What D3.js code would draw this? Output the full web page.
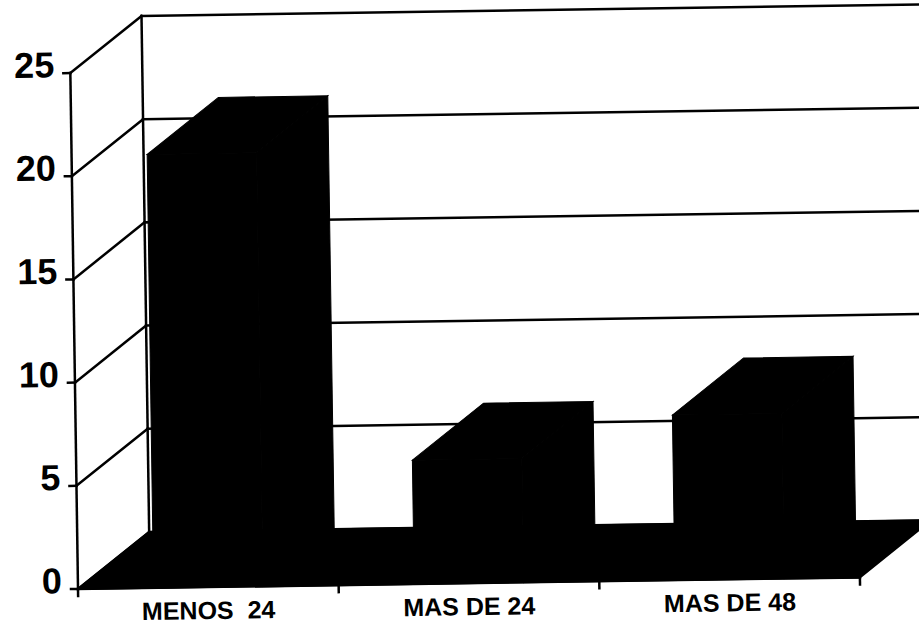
<!DOCTYPE html>
<html>
<head>
<meta charset="utf-8">
<script src="https://cdn.jsdelivr.net/npm/d3@7"></script>
<style>
  html, body { margin: 0; padding: 0; background: #fff; }
  svg { display: block; }
</style>
</head>
<body>
<div id="chart"></div>
<script>
const categories = ['MENOS  24', 'MAS DE 24', 'MAS DE 48'];
const values = [21, 6, 8];
const yTicks = [0, 5, 10, 15, 20, 25];

const W = 919, H = 625;
const origin = { x: 78, y: 589 };
const plotW = 782, plotH = 516;
const depth = { x: 72, y: -56 };   // offset of the back wall
const tilt = -0.85;                // the scan is slightly rotated

const svg = d3.select('#chart')
  .append('svg')
  .attr('width', W)
  .attr('height', H);

svg.append('rect')
  .attr('width', W)
  .attr('height', H)
  .attr('fill', '#fff');

const g = svg.append('g')
  .attr('transform', `translate(${origin.x},${origin.y}) rotate(${tilt})`);

const y = d3.scaleLinear()
  .domain([0, 25])
  .range([0, -plotH]);

const x = d3.scaleBand()
  .domain(categories)
  .range([0, plotW])
  .paddingInner(0.58)
  .paddingOuter(0.29);

const line = (x1, y1, x2, y2) => g.append('line')
  .attr('x1', x1).attr('y1', y1)
  .attr('x2', x2).attr('y2', y2)
  .attr('stroke', '#000')
  .attr('stroke-width', 2.5)
  .attr('stroke-linecap', 'square');

// back wall edge
line(depth.x, depth.y, depth.x, y(25) + depth.y);

// back wall gridlines + side wall lines
yTicks.forEach(v => {
  line(depth.x, y(v) + depth.y, plotW + depth.x + 20, y(v) + depth.y);
  line(0, y(v), depth.x, y(v) + depth.y);
});

// floor
g.append('path')
  .attr('d', `M0,0 L${plotW},0 L${plotW + depth.x},${depth.y} L${depth.x},${depth.y} Z`)
  .attr('fill', '#000')
  .attr('stroke', '#000')
  .attr('stroke-width', 2);

// bars: front, top and side faces
const bw = x.bandwidth();
categories.forEach((c, i) => {
  const x0 = x(c), x1 = x(c) + bw, yt = y(values[i]);
  const bar = g.append('g').attr('fill', '#000').attr('stroke', '#000').attr('stroke-width', 1);
  bar.append('path')
    .attr('d', `M${x0},0 L${x0},${yt} L${x1},${yt} L${x1},0 Z`);
  bar.append('path')
    .attr('d', `M${x0},${yt} L${x0 + depth.x},${yt + depth.y} L${x1 + depth.x},${yt + depth.y} L${x1},${yt} Z`);
  bar.append('path')
    .attr('d', `M${x1},${yt} L${x1 + depth.x},${yt + depth.y} L${x1 + depth.x},${depth.y} L${x1},0 Z`);
});

// front value axis
line(0, y(0), 0, y(25));
yTicks.forEach(v => {
  line(-7, y(v), 0, y(v));
  g.append('text')
    .attr('x', -16)
    .attr('y', y(v) + 4)
    .attr('text-anchor', 'end')
    .style('font-family', '"Liberation Sans", Arial, sans-serif')
    .style('font-weight', 'bold')
    .style('font-size', '36px')
    .text(v);
});

// category axis
line(0, 0, plotW, 0);
d3.range(categories.length + 1).forEach(i => {
  line(i * x.step(), 0, i * x.step(), 7);
});
categories.forEach(c => {
  g.append('text')
    .attr('x', x(c) + bw / 2)
    .attr('y', 32)
    .attr('text-anchor', 'middle')
    .style('white-space', 'pre')
    .style('font-family', '"Liberation Sans", Arial, sans-serif')
    .style('font-weight', 'bold')
    .style('font-size', '25px')
    .text(c);
});
</script>
</body>
</html>
